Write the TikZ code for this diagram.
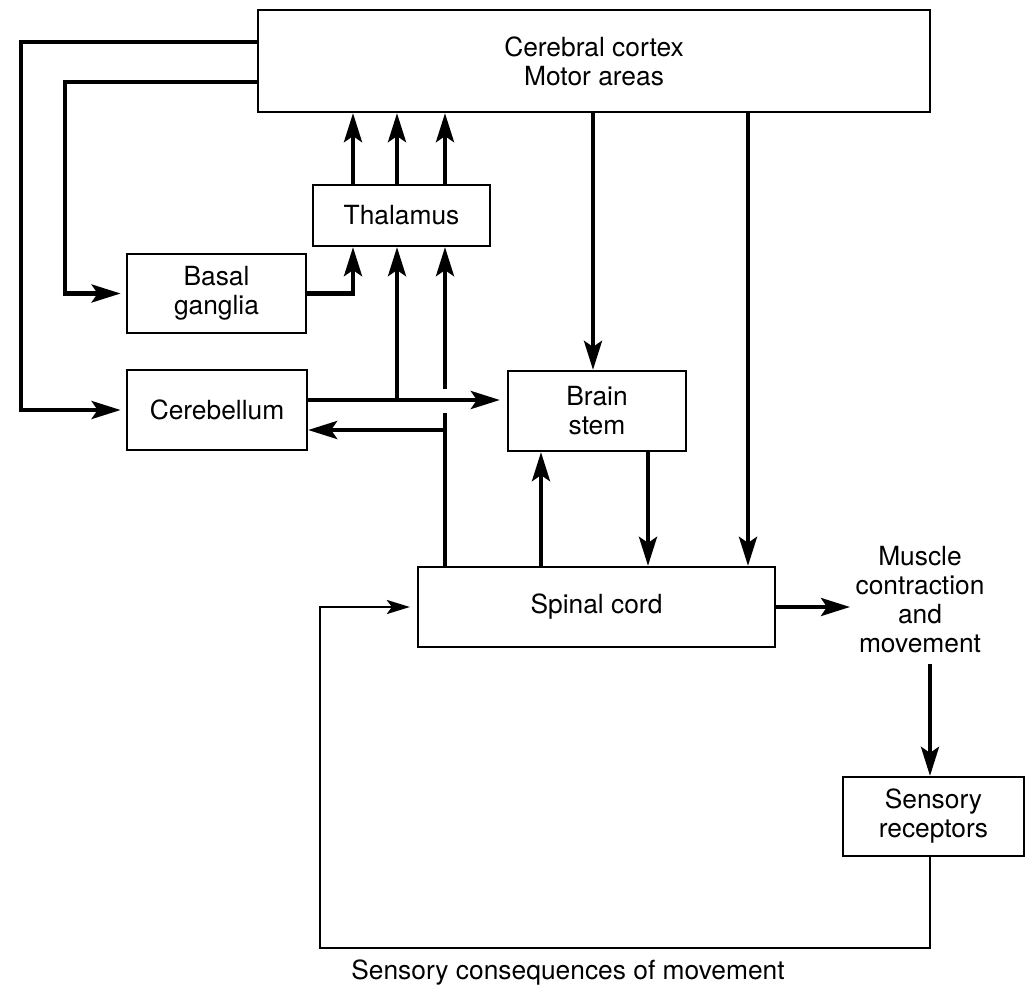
\documentclass[tikz,border=0pt]{standalone}
\usepackage{fontspec}
\setmainfont{TeX Gyre Heros}
\usetikzlibrary{arrows.meta}
\newcommand{\TS}{\fontsize{15}{16.5}\selectfont}
\newcommand{\lw}{2.3pt}
\tikzset{
    blk/.style={draw=black,line width=1.3pt,align=center,inner sep=0pt,font=\TS},
    arr/.style={line width=\lw,-{Stealth[length=0.58cm,width=0.36cm,inset=0.12cm]}},
    fb/.style={line width=1.6pt,-{Stealth[length=0.46cm,width=0.28cm,inset=0.1cm]}}
}

\begin{document}
\begin{tikzpicture}[x=0.02cm,y=-0.02cm]
    \useasboundingbox (0,0) rectangle (1028,990);

    % boxes
    \node[blk,minimum width=13.44cm,minimum height=2.04cm] (cortex) at (594,61) {Cerebral cortex\\Motor areas};
    \node[blk,minimum width=3.54cm,minimum height=1.22cm] (thal) at (401.5,215.5) {Thalamus};
    \node[blk,minimum width=3.58cm,minimum height=1.58cm] (basal) at (216.5,293.5) {Basal\\ganglia};
    \node[blk,minimum width=3.6cm,minimum height=1.6cm] (cereb) at (217,410) {Cerebellum};
    \node[blk,minimum width=3.56cm,minimum height=1.6cm] (brain) at (597,411) {Brain\\stem};
    \node[blk,minimum width=7.14cm,minimum height=1.6cm] (spinal) at (596.5,607) {Spinal cord};
    \node[blk,minimum width=3.62cm,minimum height=1.58cm] (sens) at (933.5,816.5) {Sensory\\receptors};
    \node[align=center,font=\TS,inner sep=1pt] (muscle) at (920,600) {Muscle\\contraction\\and\\movement};
    \node[font=\TS] (conseq) at (568,973) {Sensory consequences of movement};

    % cortex loops
    \draw[arr] (cortex.west |- 0,42) -| (21,0 |- cereb.west) -- ([xshift=-3pt]cereb.west);
    \draw[arr] (cortex.west |- 0,82) -| (65,0 |- basal.west) -- ([xshift=-3pt]basal.west);

    % thalamus to cortex
    \foreach \x in {353,397,445}
        \draw[arr] (\x,0 |- thal.north) -- (\x,0 |- cortex.south);

    \draw[arr] (basal.east) -| (353,0 |- thal.south);
    \draw[arr] (cereb.east |- 0,400) -- ([xshift=-4pt]brain.west |- 0,400);
    \draw[arr] (397,400) -- (397,0 |- thal.south);

    % spinal cord up to thalamus, cerebellum
    \draw[line width=\lw] (445,0 |- spinal.north) -- (445,413);
    \draw[arr] (445,389) -- (445,0 |- thal.south);
    \draw[arr] (445,430) -- (cereb.east |- 0,430);

    % descending
    \draw[arr] (593,0 |- cortex.south) -- (593,0 |- brain.north);
    \draw[arr] (748,0 |- cortex.south) -- (748,0 |- spinal.north);
    \draw[arr] (648,0 |- brain.south) -- (648,0 |- spinal.north);
    \draw[arr] (541,0 |- spinal.north) -- (541,0 |- brain.south);

    \draw[arr] (spinal.east) -- ([xshift=-2pt]spinal.east -| muscle.west);
    \draw[arr] ([yshift=-5pt]930,0 |- muscle.south) -- (930,0 |- sens.north);

    % feedback
    \draw[fb] (930,0 |- sens.south) |- (320,948) |- ([xshift=-4pt]spinal.west);
\end{tikzpicture}
\end{document}
